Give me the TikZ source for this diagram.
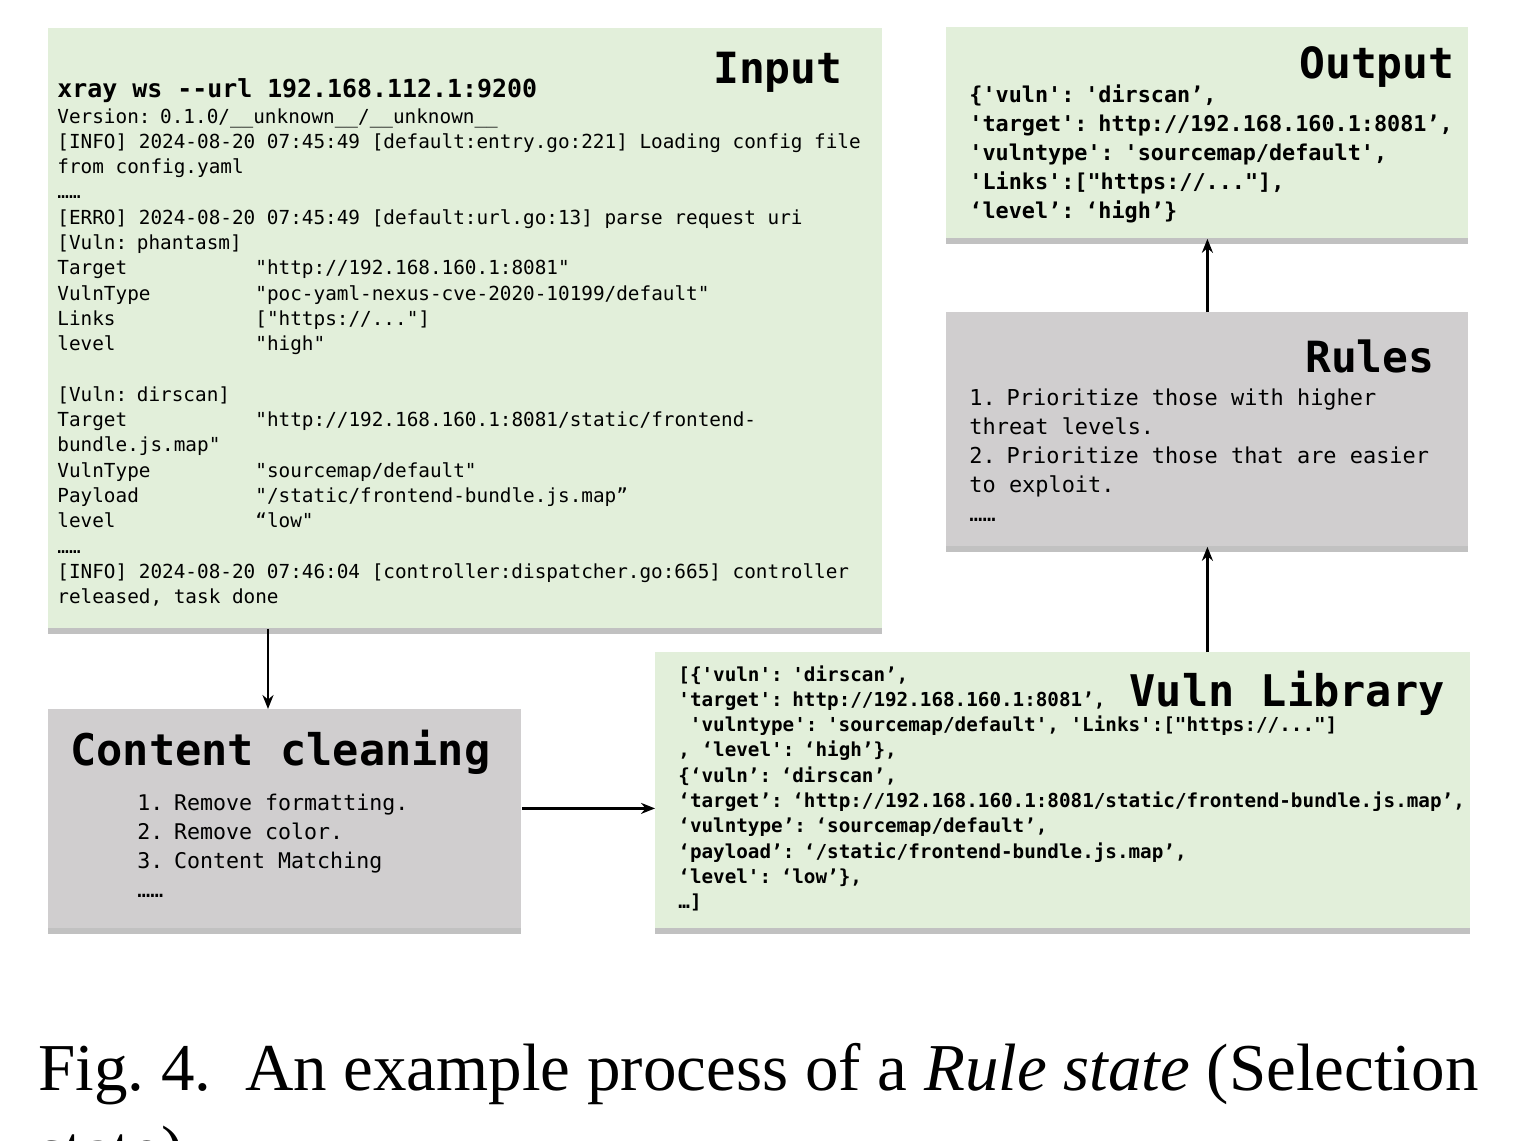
\documentclass[tikz,border=0pt]{standalone}
\usepackage{fontspec}
\setmonofont{DejaVu Sans Mono}
\newfontfamily\capfont{Liberation Serif}
\usetikzlibrary{shadows,arrows.meta}
\definecolor{boxgreen}{RGB}{226,239,218}
\definecolor{boxgray}{RGB}{208,206,207}
\newcommand\field[2]{\makebox[99pt][l]{#1}#2}
\newcommand\codesize[2]{\ttfamily\fontsize{#1}{#2}\selectfont\spaceskip=0.602em\relax}

\begin{document}
\begin{tikzpicture}[x=0.5pt,y=-0.5pt]
    \tikzstyle{box}=[rectangle, inner sep=0pt, anchor=north west, drop shadow={shadow xshift=0pt,shadow yshift=-3pt,fill=black!60,opacity=.4}]
    \tikzstyle{greenbox}=[box, fill=boxgreen]
    \tikzstyle{graybox}=[box, fill=boxgray]
    \tikzstyle{title}=[inner sep=0pt, anchor=base east, font=\bfseries\codesize{21.5}{26}]
    \tikzstyle{code}=[inner sep=0pt, anchor=base west, execute at begin node={\spaceskip=0.602em\relax}]
    \tikzstyle{flow}=[-{Stealth[length=7pt,width=5.5pt]}, line width=1.1pt]
    \useasboundingbox (0,0) rectangle (1513,1140);
    \clip (0,0) rectangle (1513,1140);
    \fill[white] (0,0) rectangle (1513,1140);

    \node[greenbox, minimum width=417pt, minimum height=300pt] (input) at (48,28) {};
    \node[greenbox, minimum width=261pt, minimum height=105.5pt] (output) at (946,27) {};
    \node[graybox, minimum width=261pt, minimum height=117pt] (rules) at (946,312) {};
    \node[graybox, minimum width=236.5pt, minimum height=109.5pt] (cleaning) at (48,709) {};
    \node[greenbox, minimum width=407.5pt, minimum height=138pt] (vuln) at (655,652) {};

    \node[title] (inputtitle) at (843,83) {Input};
    \node[code, font=\bfseries\codesize{12.45}{15}] (command) at (57,97) {xray ws --url 192.168.112.1:9200};
    \node[code, text width=420pt, font=\codesize{9.67}{12.65}] (inputlog) at (57,123) {Version: 0.1.0/\_\_unknown\_\_/\_\_unknown\_\_\\
{[}INFO] 2024-08-20 07:45:49 {[}default:entry.go:221] Loading config file\\
from config.yaml\\
……\\
{[}ERRO] 2024-08-20 07:45:49 {[}default:url.go:13] parse request uri\\
{[}Vuln: phantasm]\\
\field{Target}{"http://192.168.160.1:8081"}\\
\field{VulnType}{"poc-yaml-nexus-cve-2020-10199/default"}\\
\field{Links}{{[}"https://..."]}\\
\field{level}{"high"}\\
\mbox{}\\
{[}Vuln: dirscan]\\
\field{Target}{"http://192.168.160.1:8081/static/frontend-}\\
bundle.js.map"\\
\field{VulnType}{"sourcemap/default"}\\
\field{Payload}{"/static/frontend-bundle.js.map”}\\
\field{level}{“low"}\\
……\\
{[}INFO] 2024-08-20 07:46:04 {[}controller:dispatcher.go:665] controller\\
released, task done};

    \node[title] (outputtitle) at (1455,78) {Output};
    \node[code, text width=260pt, font=\bfseries\codesize{10.9}{14.5}] (outputlist) at (969,102) {\{'vuln': 'dirscan’,\\
'target': http://192.168.160.1:8081’,\\
'vulntype': 'sourcemap/default',\\
'Links':{[}"https://..."],\\
‘level’: ‘high’\}};

    \node[title] (rulestitle) at (1435,372) {Rules};
    \node[code, text width=260pt, font=\codesize{10.96}{14.5}] (ruleslist) at (969,405) {1. Prioritize those with higher\\
threat levels.\\
2. Prioritize those that are easier\\
to exploit.\\
……};

    \node[title, anchor=base west, font=\bfseries\codesize{21.8}{26}] (cleaningtitle) at (70,765) {Content cleaning};
    \node[code, text width=200pt, font=\codesize{10.8}{14.5}] (cleaninglist) at (137,810) {1. Remove formatting.\\
2. Remove color.\\
3. Content Matching\\
……};

    \node[title, font=\bfseries\codesize{21.8}{26}] (vulntitle) at (1445,706) {Vuln Library};
    \node[code, text width=410pt, font=\bfseries\codesize{9.63}{12.65}] (vulnlist) at (678,681) {{[}\{'vuln': 'dirscan’,\\
'target': http://192.168.160.1:8081’,\\
\hspace*{0.6em}'vulntype': 'sourcemap/default', 'Links':{[}"https://..."]\\
, ‘level': ‘high’\},\\
\{‘vuln’: ‘dirscan’,\\
‘target’: ‘http://192.168.160.1:8081/static/frontend-bundle.js.map’,\\
‘vulntype’: ‘sourcemap/default’,\\
‘payload’: ‘/static/frontend-bundle.js.map’,\\
‘level': ‘low’\},\\
…]};

    \draw[flow] ([xshift=110pt]input.south west) -- ([xshift=110pt]cleaning.north west);
    \draw[flow] ([yshift=5.25pt]cleaning.east) -- ([yshift=5.25pt]cleaning.east -| vuln.west);
    \draw[flow] (rules.south |- vuln.north) -- (rules.south);
    \draw[flow] (rules.north) -- (output.south);

    \node[inner sep=0pt, anchor=base west, font=\capfont\fontsize{33.5}{40}\selectfont] (caption) at (38,1090) {Fig.\ 4.\enspace An example process of a \textit{Rule state} (Selection};
    \node[inner sep=0pt, anchor=base west, font=\capfont\fontsize{33.5}{40}\selectfont] (captionrest) at (38,1172) {state)};
\end{tikzpicture}
\end{document}
